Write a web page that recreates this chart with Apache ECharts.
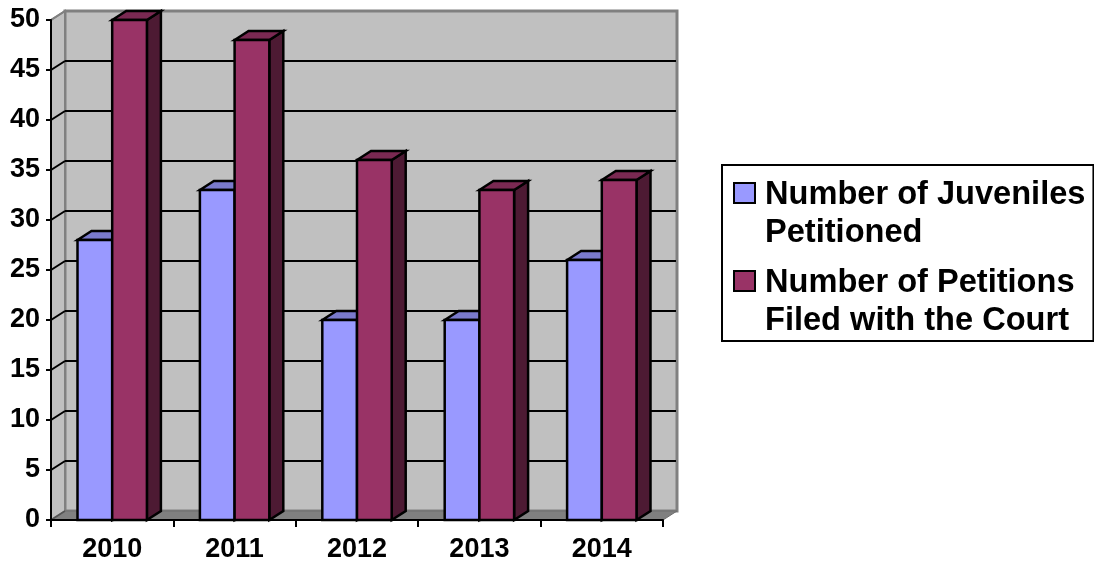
<!DOCTYPE html>
<html><head><meta charset="utf-8">
<style>html,body{margin:0;padding:0;background:#fff}#c{width:1094px;height:563px}</style>
<script src="https://cdn.jsdelivr.net/npm/echarts@6/dist/echarts.min.js"></script>
</head><body><div id="c"></div>
<script>
const years = ['2010','2011','2012','2013','2014'];
const juveniles = [28,33,20,20,26];
const petitions = [50,48,36,33,34];
const yTicks = [0,5,10,15,20,25,30,35,40,45,50];
const nameA = 'Number of Juveniles\nPetitioned';
const nameB = 'Number of Petitions\nFiled with the Court';
const DX = 14, DY = 9, FONT = 'Liberation Sans, Arial, sans-serif';

function poly(points, fill, stroke, lw){
  return {type:'polygon',shape:{points},style:{fill,stroke:stroke||null,lineWidth:lw||0,lineJoin:'miter'}};
}
function line(x1,y1,x2,y2,stroke,lw){
  return {type:'line',shape:{x1,y1,x2,y2},style:{stroke,lineWidth:lw}};
}
function wallItem(params){
  const c = params.coordSys, L=c.x, R=c.x+c.width, T=c.y, B=c.y+c.height;
  return {type:'group',children:[
    poly([[L+DX,T-DY],[R+DX,T-DY],[R+DX,B-DY],[L+DX,B-DY]],'#c0c0c0','#808080',3),
    poly([[L,T],[L+DX,T-DY],[L+DX,B-DY],[L,B]],'#c0c0c0','#808080',2),
    poly([[L,B],[L+DX,B-DY],[R+DX,B-DY],[R,B]],'#808080','#6e6e6e',1)
  ]};
}
function gridItem(params,api){
  const v = api.value(1), c = params.coordSys, y = api.coord([0,v])[1], L=c.x, R=c.x+c.width;
  if(v===0) return line(L,y,L+DX,y-DY,'#555',1.5);
  if(v===50) return line(L,y,L+DX,y-DY,'#808080',2);
  return {type:'group',children:[
    line(L,y,L+DX,y-DY,'#000',2),
    line(L+DX,y-DY,R+DX-1,y-DY,'#000',2)
  ]};
}
function barItem(off,front,top,side){
  return function(params,api){
    const p = api.coord([api.value(0),api.value(1)]), b = api.coord([api.value(0),0]);
    const cat = api.size([1,0])[0], w = cat*0.2835;
    const x0 = p[0]+off*w, x1 = x0+w, y0 = p[1], y1 = b[1];
    const st='#000', lw=2.5;
    return {type:'group',children:[
      poly([[x1,y0],[x1+DX,y0-DY],[x1+DX,y1-DY],[x1,y1]],side,st,lw),
      poly([[x0,y0],[x0+DX,y0-DY],[x1+DX,y0-DY],[x1,y0]],top,st,lw),
      poly([[x0,y0],[x1,y0],[x1,y1],[x0,y1]],front,st,lw)
    ]};
  };
}
// invisible corners reserve the legend cell so the swatch sits beside line one
const swatch = 'path://M0 0L0 0M0 7H21V27H0ZM26 76L26 76';
const chart = echarts.init(document.getElementById('c'),null,{renderer:'canvas'});
chart.setOption({
  animation:false,
  backgroundColor:'#fff',
  grid:{left:51,right:431,top:20,bottom:42,containLabel:false},
  xAxis:{type:'category',data:years,boundaryGap:true,
    axisLine:{lineStyle:{color:'#000',width:2}},
    axisTick:{show:true,length:7,alignWithLabel:false,lineStyle:{color:'#000',width:2}},
    axisLabel:{interval:0,color:'#000',fontFamily:FONT,fontWeight:'bold',fontSize:27,margin:16},
    splitLine:{show:false},z:5},
  yAxis:{type:'value',min:0,max:50,interval:5,
    axisLine:{show:true,lineStyle:{color:'#000',width:2}},
    axisTick:{show:true,length:5,lineStyle:{color:'#000',width:2}},
    axisLabel:{color:'#000',fontFamily:FONT,fontWeight:'bold',fontSize:27,margin:11,padding:[2,0,0,0],
      formatter:v=>yTicks.includes(v)?String(v):''},
    splitLine:{show:false},z:5},
  legend:{
    left:722,top:165,orient:'vertical',selectedMode:false,
    padding:[10,8,0,11],backgroundColor:'#fff',borderColor:'#000',borderWidth:2,borderRadius:0,
    itemWidth:26,itemHeight:76,itemGap:10,
    textStyle:{color:'#000',fontFamily:FONT,fontWeight:'bold',fontSize:32.6,lineHeight:38},
    data:[
      {name:nameA,icon:swatch,itemStyle:{color:'#9999ff',borderColor:'#000',borderWidth:2}},
      {name:nameB,icon:swatch,itemStyle:{color:'#993366',borderColor:'#000',borderWidth:2}}
    ]
  },
  series:[
    {name:'walls',type:'custom',clip:false,z:1,silent:true,data:[[0,0]],encode:{x:0,y:1},renderItem:wallItem},
    {name:'grid',type:'custom',clip:false,z:2,silent:true,data:yTicks.map(v=>[0,v]),encode:{x:0,y:1},renderItem:gridItem},
    {name:nameA,type:'custom',clip:false,z:3,data:years.map((y,i)=>[i,juveniles[i]]),encode:{x:0,y:1},
      itemStyle:{color:'#9999ff'},renderItem:barItem(-1,'#9999ff','#7a7acc','#4d4d80')},
    {name:nameB,type:'custom',clip:false,z:4,data:years.map((y,i)=>[i,petitions[i]]),encode:{x:0,y:1},
      itemStyle:{color:'#993366'},renderItem:barItem(0,'#993366','#7a2952','#4d1a33')}
  ]
});
</script></body></html>
